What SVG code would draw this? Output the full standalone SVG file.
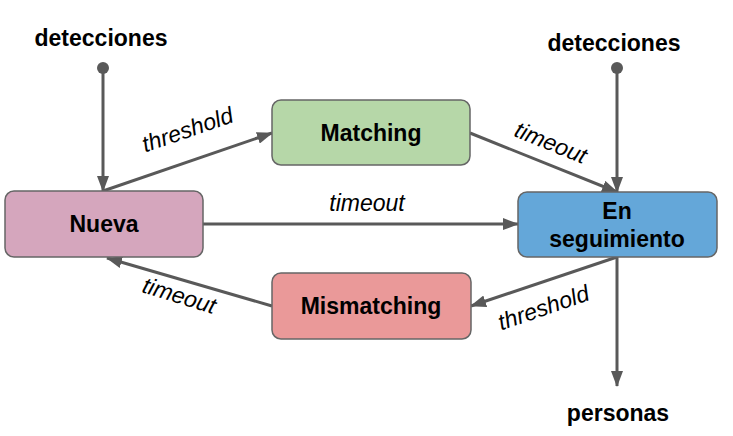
<svg xmlns="http://www.w3.org/2000/svg" width="733" height="436" viewBox="0 0 733 436">
<defs>
<marker id="ah" viewBox="0 0 16 12" refX="15" refY="6" markerWidth="16" markerHeight="12" markerUnits="userSpaceOnUse" orient="auto">
<path d="M0,0 L16,6 L0,12 Z" fill="#595959"/>
</marker>
<style>
.node{stroke:#666666;stroke-width:1.5}
.nl{font-family:"Liberation Sans",Arial,sans-serif;font-weight:bold;font-size:23px;fill:#000;text-anchor:middle}
.edge{stroke:#595959;stroke-width:3;fill:none;marker-end:url(#ah)}
.el{font-family:"Liberation Sans",Arial,sans-serif;font-style:italic;font-size:23px;fill:#000;text-anchor:middle}
.tl{font-family:"Liberation Sans",Arial,sans-serif;font-weight:bold;font-size:23px;fill:#000;text-anchor:middle}
</style>
</defs>
<rect width="733" height="436" fill="#ffffff"/>
<g id="connectors">
<circle cx="103" cy="68" r="6" fill="#595959"/>
<line class="edge" x1="103" y1="68" x2="103" y2="191"/>
<circle cx="617" cy="68" r="6" fill="#595959"/>
<line class="edge" x1="617" y1="68" x2="617" y2="192"/>
<line class="edge" x1="103" y1="191" x2="272" y2="133"/>
<line class="edge" x1="470" y1="133" x2="617" y2="192"/>
<line class="edge" x1="203" y1="224" x2="518" y2="224"/>
<line class="edge" x1="617" y1="257" x2="471" y2="306"/>
<line class="edge" x1="272" y1="306" x2="107" y2="258"/>
<line class="edge" x1="617" y1="257" x2="617" y2="386"/>
<text class="el" transform="translate(190,137) rotate(-19)">threshold</text>
<text class="el" transform="translate(548,150) rotate(22)">timeout</text>
<text class="el" x="367" y="211">timeout</text>
<text class="el" transform="translate(546,315) rotate(-19)">threshold</text>
<text class="el" transform="translate(177,303) rotate(17)">timeout</text>
</g>
<g id="t-detecciones-left"><text class="tl" x="101" y="46">detecciones</text></g>
<g id="t-detecciones-right"><text class="tl" x="614" y="51">detecciones</text></g>
<g id="t-personas"><text class="tl" x="618" y="421">personas</text></g>
<g id="nueva">
<rect class="node" x="5" y="191" width="198" height="66" rx="9" fill="#d5a6bd"/>
<text class="nl" x="104" y="232">Nueva</text>
</g>
<g id="matching">
<rect class="node" x="272" y="100" width="198" height="65" rx="9" fill="#b6d7a8"/>
<text class="nl" x="371" y="141">Matching</text>
</g>
<g id="en-seguimiento">
<rect class="node" x="518" y="192" width="199" height="65" rx="9" fill="#64a7d9"/>
<text class="nl" x="617" y="219">En</text>
<text class="nl" x="617" y="247">seguimiento</text>
</g>
<g id="mismatching">
<rect class="node" x="272" y="273" width="199" height="66" rx="9" fill="#ea9999"/>
<text class="nl" x="371" y="314">Mismatching</text>
</g>
</svg>
